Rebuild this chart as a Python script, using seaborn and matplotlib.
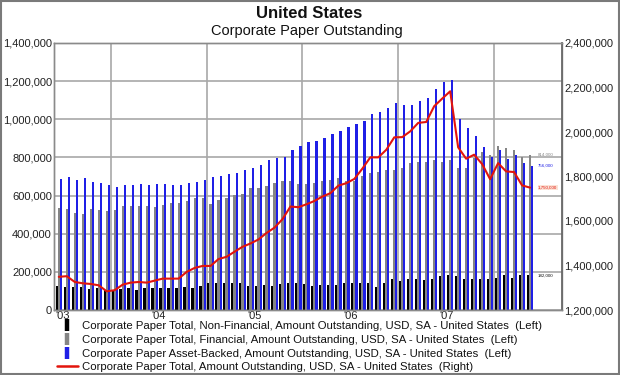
import numpy as np
import pandas as pd
import matplotlib
matplotlib.use("Agg")
import matplotlib.pyplot as plt
import seaborn as sns
from matplotlib.ticker import FuncFormatter, MultipleLocator
from matplotlib.lines import Line2D
from matplotlib.patches import Rectangle

# ---- data (thousands of USD), monthly Jun 2003 .. May 2008 ----
months = list(range(60))
year_labels = ["'03", "'04", "'05", "'06", "'07"]
year_label_pos = [0.5, 12.5, 24.5, 36.5, 48.5]
year_bounds = [6.5, 18.5, 30.5, 42.5, 54.5]

non_financial = [126, 121, 121, 121, 109, 116, 103, 98, 109, 116,
                 103, 116, 116, 116, 116, 116, 121, 116, 126, 139,
                 139, 139, 139, 139, 126, 126, 130, 126, 135, 139,
                 139, 135, 126, 130, 130, 130, 139, 139, 139, 139,
                 118, 139, 165, 154, 160, 165, 158, 165, 179, 186,
                 177, 165, 161, 165, 161, 170, 182, 170, 186, 182]
financial = [533, 530, 509, 505, 530, 525, 518, 526, 546, 547,
             547, 544, 539, 549, 561, 561, 570, 586, 589, 554,
             575, 589, 604, 607, 639, 639, 651, 665, 674, 677,
             660, 660, 667, 674, 681, 691, 677, 674, 704, 718,
             726, 735, 732, 744, 770, 775, 774, 788, 775, 788,
             744, 747, 796, 826, 814, 858, 849, 837, 800, 814]
asset_backed = [686, 695, 684, 693, 672, 667, 653, 646, 653, 656,
                660, 653, 660, 660, 654, 654, 668, 672, 684, 695,
                704, 711, 716, 735, 744, 761, 784, 797, 803, 840,
                861, 879, 888, 902, 925, 937, 958, 975, 993, 1028,
                1037, 1060, 1084, 1077, 1077, 1095, 1109, 1160, 1196, 1205,
                1003, 954, 911, 853, 800, 837, 793, 814, 770, 756]
total = [1349, 1352, 1326, 1320, 1317, 1311, 1284, 1289, 1314, 1323,
         1326, 1323, 1332, 1341, 1341, 1341, 1371, 1389, 1398, 1398,
         1429, 1439, 1462, 1484, 1499, 1517, 1546, 1570, 1608, 1665,
         1662, 1675, 1690, 1710, 1725, 1759, 1770, 1789, 1835, 1886,
         1886, 1920, 1976, 1977, 2003, 2041, 2045, 2116, 2150, 2183,
         1931, 1880, 1898, 1856, 1788, 1860, 1823, 1820, 1760, 1750]

series_names = [
    "Corporate Paper Total, Non-Financial, Amount Outstanding, USD, SA - United States  (Left)",
    "Corporate Paper Total, Financial, Amount Outstanding, USD, SA - United States  (Left)",
    "Corporate Paper Asset-Backed, Amount Outstanding, USD, SA - United States  (Left)",
]
line_name = "Corporate Paper Total, Amount Outstanding, USD, SA - United States  (Right)"

c_black, c_gray, c_blue, c_red = "#000000", "#858585", "#1f1fe6", "#e3140c"

df = pd.DataFrame({
    "month": months * 3,
    "value": np.array(non_financial + financial + asset_backed) * 1000,
    "series": [series_names[0]] * 60 + [series_names[1]] * 60 + [series_names[2]] * 60,
})

sns.set_theme(style="white")
plt.rcParams["font.family"] = ["Liberation Sans", "DejaVu Sans"]

W, H = 620, 375
fig = plt.figure(figsize=(6.2, 3.75), dpi=100)
L, R, T, B = 54, 562, 43, 310
ax = fig.add_axes([L / W, 1 - B / H, (R - L) / W, (B - T) / H])

sns.barplot(data=df, x="month", y="value", hue="series", hue_order=series_names,
            palette=[c_black, c_gray, c_blue], width=0.8, saturation=1,
            errorbar=None, linewidth=0, ax=ax, legend=False)

ax2 = ax.twinx()
sns.lineplot(x=months, y=np.array(total) * 1000, ax=ax2, color=c_red,
             linewidth=1.5, legend=False)

fmt = FuncFormatter(lambda v, p: f"{v:,.0f}")
ax.set_xlim(-0.6, 63)
ax.set_ylim(0, 1400000)
ax.yaxis.set_major_locator(MultipleLocator(200000))
ax.yaxis.set_major_formatter(fmt)
ax2.set_ylim(1200000, 2400000)
ax2.yaxis.set_major_locator(MultipleLocator(200000))
ax2.yaxis.set_major_formatter(fmt)

ax.set_xticks(year_label_pos)
ax.set_xticklabels(year_labels)
ax.set_xticks(year_bounds, minor=True)

ax.set_axisbelow(True)
ax.grid(False)
ax.grid(which="major", axis="y", color="#a8a8a8", linewidth=1.2)
ax.grid(which="minor", axis="x", color="#a8a8a8", linewidth=1.2)
ax2.grid(False)

for a in (ax, ax2):
    a.set_xlabel("")
    a.set_ylabel("")
    a.tick_params(axis="both", which="both", length=0, labelsize=8,
                  labelcolor="#222222", pad=1.5)
    for s in a.spines.values():
        s.set_color("#8a8a8a")
        s.set_linewidth(1.0)
ax.tick_params(axis="x", pad=1)
ax2.spines["right"].set_color("#6a6a6a")
ax2.spines["right"].set_linewidth(1.3)

# small end-of-series value labels
lab_x = 60.0
ax.text(lab_x, financial[-1] * 1000, f"{financial[-1] * 1000:,.0f}", fontsize=3.2,
        color=c_gray, va="center", ha="left")
ax.text(lab_x, asset_backed[-1] * 1000, f"{asset_backed[-1] * 1000:,.0f}", fontsize=3.2,
        color=c_blue, va="center", ha="left")
ax.text(lab_x, non_financial[-1] * 1000, f"{non_financial[-1] * 1000:,.0f}", fontsize=3.2,
        color="#111111", va="center", ha="left")
ax2.text(lab_x, total[-1] * 1000, f"{total[-1] * 1000:,.0f}", fontsize=3.2,
         color=c_red, va="center", ha="left",
         bbox=dict(boxstyle="square,pad=0.1", fc="#fbe3d6", ec="none"))

# titles
fig.text(309 / W, 1 - 14 / H, "United States", ha="center", va="center",
         fontsize=12, fontweight="bold", color="#111111")
fig.text(307 / W, 1 - 31 / H, "Corporate Paper Outstanding", ha="center", va="center",
         fontsize=10.5, color="#111111")

# legend
handles = [
    Line2D([], [], linestyle="none", marker="|", markersize=9, markeredgewidth=3.2, color=c_black),
    Line2D([], [], linestyle="none", marker="|", markersize=9, markeredgewidth=3.2, color=c_gray),
    Line2D([], [], linestyle="none", marker="|", markersize=9, markeredgewidth=3.2, color=c_blue),
    Line2D([], [], color=c_red, linewidth=1.8),
]
fig.legend(handles, series_names + [line_name], loc="upper left",
           bbox_to_anchor=(57 / W, 1 - 321 / H), frameon=False, fontsize=8.2,
           handlelength=1.8, handletextpad=0.4, labelspacing=0.33,
           borderpad=0, borderaxespad=0, numpoints=1, labelcolor="#111111")

fig.patches.append(Rectangle((0.0015, 0.0025), 0.997, 0.995, transform=fig.transFigure,
                             fill=False, edgecolor="#7a7a7a", linewidth=1.5))

fig.savefig("out.png", dpi=100)
